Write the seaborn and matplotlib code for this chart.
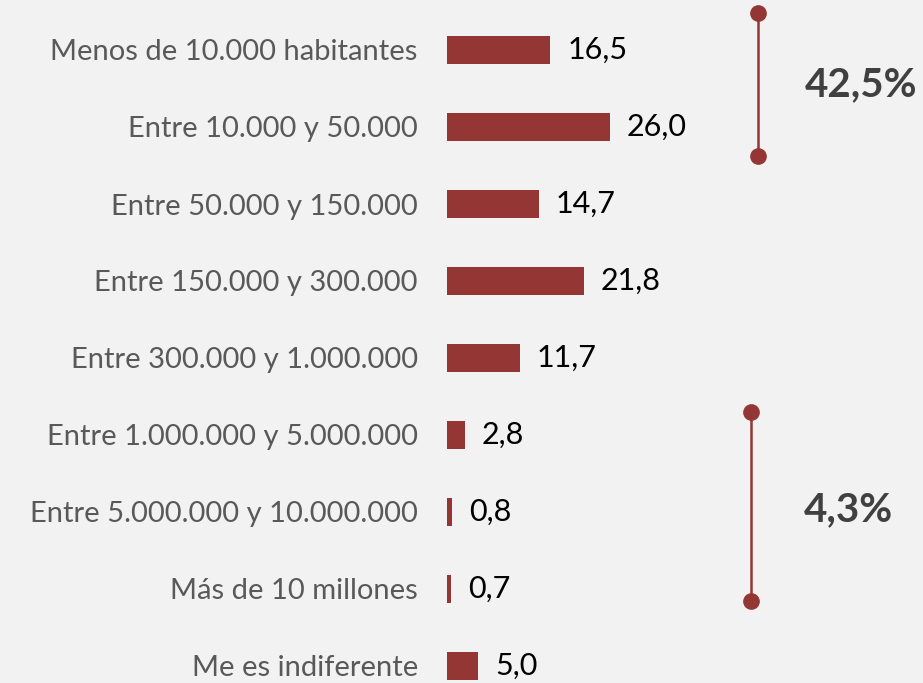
import matplotlib
matplotlib.use("Agg")
import matplotlib.pyplot as plt
import seaborn as sns
import pandas as pd

# Data
categories = [
    "Menos de 10.000 habitantes",
    "Entre 10.000 y 50.000",
    "Entre 50.000 y 150.000",
    "Entre 150.000 y 300.000",
    "Entre 300.000 y 1.000.000",
    "Entre 1.000.000 y 5.000.000",
    "Entre 5.000.000 y 10.000.000",
    "Más de 10 millones",
    "Me es indiferente",
]
values = [16.5, 26.0, 14.7, 21.8, 11.7, 2.8, 0.8, 0.7, 5.0]
group_labels = ["42,5%", "4,3%"]

bar_color = "#943634"
bg = "#f2f2f2"

df = pd.DataFrame({"categoria": categories, "valor": values})

sns.set_theme(style="white")
plt.rcParams["font.family"] = ["Lato", "DejaVu Sans"]

fig = plt.figure(figsize=(9.23, 6.83), dpi=100, facecolor=bg)
ax = fig.add_axes([447 / 923, 0, 1 - 447 / 923, 1])
ax.set_facecolor(bg)

sns.barplot(data=df, y="categoria", x="valor", color=bar_color,
            saturation=1, width=0.36, linewidth=0, ax=ax)

labels = [f"{v:.1f}".replace(".", ",") for v in values]
ax.bar_label(ax.containers[0], labels=labels, padding=12,
             fontsize=22, color="black")

# axis ranges: ~6.27 px per unit
ax.set_xlim(0, 476 / 6.27)
ax.set_ylim(8 + 17 / 77, -50 / 77)

ax.set_xlabel("")
ax.set_ylabel("")
ax.set_xticks([])
ax.tick_params(axis="y", length=0, pad=21, labelsize=21, labelcolor="#595959")
for s in ax.spines.values():
    s.set_visible(False)

# brackets grouping categories
ax.plot([49.6, 49.6], [-0.48, 1.38], color=bar_color, lw=1.8,
        marker="o", markersize=11, solid_capstyle="butt")
ax.plot([48.5, 48.5], [4.70, 7.16], color=bar_color, lw=1.8,
        marker="o", markersize=11, solid_capstyle="butt")

ax.text(66.0, 0.45, group_labels[0], fontsize=29, fontweight="bold",
        color="#404040", ha="center", va="center")
ax.text(64.0, 5.97, group_labels[1], fontsize=29, fontweight="bold",
        color="#404040", ha="center", va="center")

fig.savefig("out.png", dpi=100, facecolor=bg)
